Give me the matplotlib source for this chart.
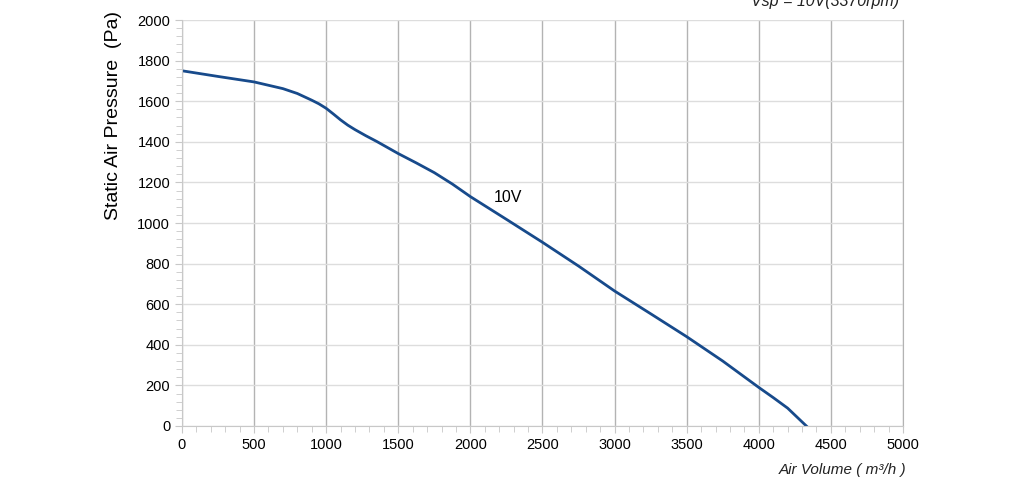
import matplotlib
matplotlib.use('Agg')
import matplotlib.pyplot as plt
from matplotlib.ticker import MultipleLocator

plt.rcParams['font.family'] = ['Liberation Sans', 'DejaVu Sans']

# fan curve at 10V
air_volume = [0, 250, 500, 700, 800, 900, 950, 1000, 1050, 1100, 1150, 1200,
              1275, 1350, 1500, 1625, 1750, 1875, 2000, 2250, 2500, 2750,
              3000, 3250, 3500, 3750, 4000, 4100, 4200, 4330]
pressure = [1750, 1722, 1695, 1662, 1638, 1605, 1587, 1565, 1537, 1508, 1482, 1460,
            1430, 1402, 1342, 1296, 1248, 1192, 1130, 1018, 905, 788,
            665, 553, 440, 320, 190, 140, 88, 0]
curve_label = '10V'
title = 'Vsp = 10V(3370rpm)'

fig = plt.figure(figsize=(10.24, 4.86), dpi=100)
ax = fig.add_axes([0.1777, 0.1235, 0.8818 - 0.1777, 0.9588 - 0.1235])

ax.plot(air_volume, pressure, color='#174a8b', lw=2)

ax.set_xlim(0, 5000)
ax.set_ylim(0, 2000)
ax.xaxis.set_major_locator(MultipleLocator(500))
ax.xaxis.set_minor_locator(MultipleLocator(100))
ax.yaxis.set_major_locator(MultipleLocator(200))
ax.yaxis.set_minor_locator(MultipleLocator(40))

ax.grid(axis='x', which='major', color='#b3b3b3', lw=1.0)
ax.grid(axis='y', which='major', color='#dddddd', lw=1.0)
ax.set_axisbelow(True)

ax.spines['top'].set_visible(False)
ax.spines['right'].set_color('#b3b3b3')
for s in ['left', 'bottom']:
    ax.spines[s].set_color('#c8c8c8')
ax.tick_params(which='both', colors='#c8c8c8', labelcolor='black', labelsize=10.5)
ax.tick_params(which='major', length=5)
ax.tick_params(which='minor', length=4)

ax.text(2260, 1125, curve_label, fontsize=11.5, ha='center', va='center')

# y label sits near the top in the original, not centred
fig.text(113 / 1024, 1 - 115 / 486, 'Static Air Pressure  (Pa)', fontsize=14,
         rotation=90, ha='center', va='center')
fig.text(843 / 1024, 1 - 470 / 486, 'Air Volume ( m³/h )', fontsize=11,
         style='italic', ha='center', va='center', color='#222222')
fig.text(825 / 1024, 0.996, title, fontsize=11.5, style='italic',
         ha='center', va='center', color='#222222')

fig.savefig('out.png', dpi=100)
